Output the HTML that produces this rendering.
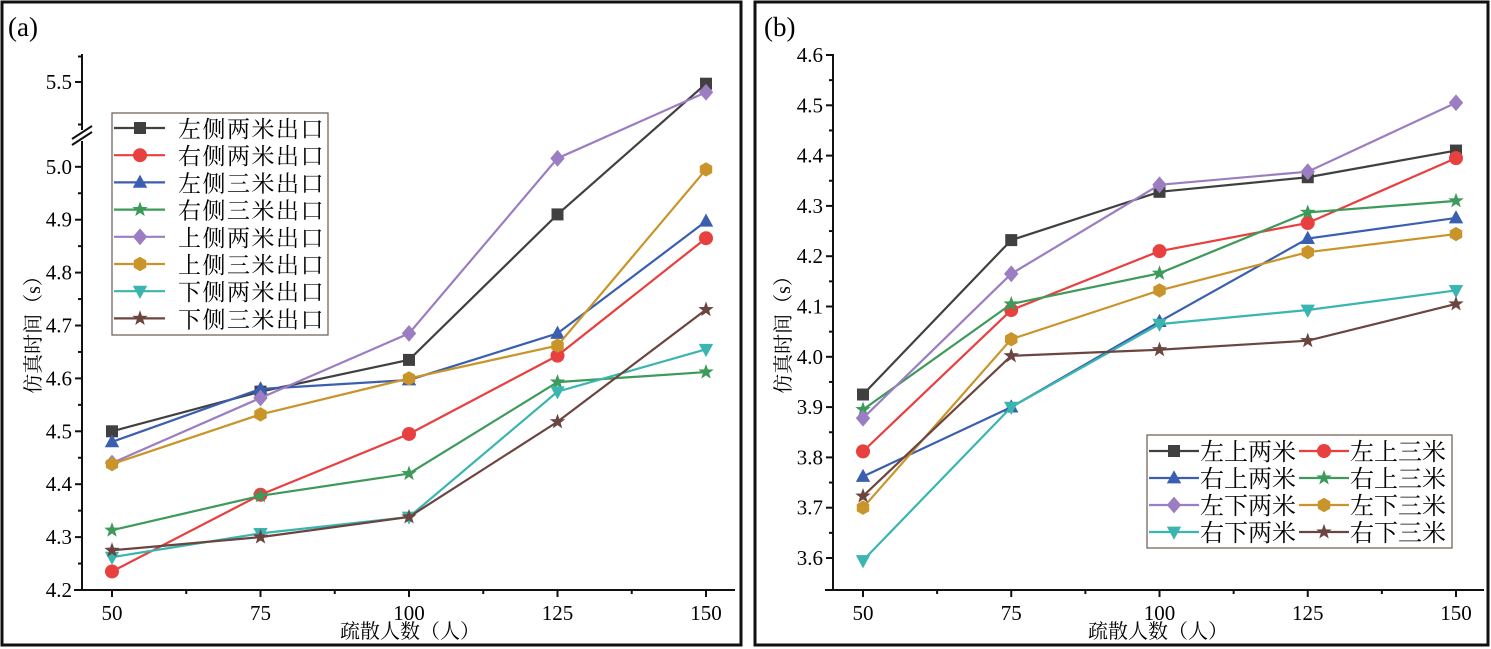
<!DOCTYPE html>
<html><head><meta charset="utf-8"><style>
html,body{margin:0;padding:0;background:#fff;}
svg{display:block;font-family:"Liberation Serif","Noto Serif CJK SC",serif;}
</style></head><body>
<svg id="chart" width="1491" height="649" viewBox="0 0 1491 649">
<rect x="2" y="2" width="739" height="643" fill="none" stroke="#111" stroke-width="3"/>
<rect x="755" y="2" width="733" height="643" fill="none" stroke="#111" stroke-width="3"/>
<text x="8" y="36" font-size="27">(a)</text>
<text x="764" y="36" font-size="27">(b)</text>
<g id="ga"></g><g id="gb"></g>
</svg>
<script>
const xCats=[50,75,100,125,150];
const namesA=["左侧两米出口","右侧两米出口","左侧三米出口","右侧三米出口","上侧两米出口","上侧三米出口","下侧两米出口","下侧三米出口"];
const a1=[4.50,4.575,4.635,4.91,5.49];
const a2=[4.235,4.38,4.495,4.643,4.865];
const a3=[4.48,4.58,4.597,4.685,4.897];
const a4=[4.313,4.378,4.42,4.593,4.612];
const a5=[4.44,4.563,4.685,5.016,5.44];
const a6=[4.438,4.532,4.60,4.662,4.995];
const a7=[4.262,4.307,4.338,4.575,4.655];
const a8=[4.275,4.30,4.338,4.518,4.73];
const yTicksA=[4.2,4.3,4.4,4.5,4.6,4.7,4.8,4.9,5.0];
const yTicksAUpper=[5.5];
const namesB=["左上两米","左上三米","右上两米","右上三米","左下两米","左下三米","右下两米","右下三米"];
const b1=[3.925,4.232,4.328,4.357,4.41];
const b2=[3.812,4.093,4.21,4.266,4.395];
const b3=[3.762,3.90,4.07,4.235,4.276];
const b4=[3.895,4.105,4.166,4.287,4.31];
const b5=[3.878,4.165,4.342,4.368,4.505];
const b6=[3.70,4.035,4.132,4.208,4.244];
const b7=[3.595,3.90,4.065,4.093,4.132];
const b8=[3.723,4.002,4.014,4.032,4.105];
const yTicksB=[3.6,3.7,3.8,3.9,4.0,4.1,4.2,4.3,4.4,4.5,4.6];

const colors=["#404040","#e8403f","#3a5fb0","#3c9a5a","#9b7ec2","#c9952a","#3ab5b0","#6b4540"];
const markers=["square","circle","tri","star","diamond","hex","dtri","star"];
const NS="http://www.w3.org/2000/svg";
function mk(p,tag,at){const e=document.createElementNS(NS,tag);for(const k in at)e.setAttribute(k,at[k]);p.appendChild(e);return e;}
function marker(p,type,x,y,c,s){
 let e;
 if(type==="square")e=mk(p,"rect",{x:x-s,y:y-s,width:2*s,height:2*s,fill:c});
 else if(type==="circle")e=mk(p,"circle",{cx:x,cy:y,r:s+1,fill:c});
 else {let pts=[];
  if(type==="tri")pts=[[0,-1.3],[1.2,0.9],[-1.2,0.9]];
  else if(type==="dtri")pts=[[0,1.3],[1.2,-0.9],[-1.2,-0.9]];
  else if(type==="diamond")pts=[[0,-1.4],[1.2,0],[0,1.4],[-1.2,0]];
  else if(type==="hex")for(let i=0;i<6;i++){const a=Math.PI/6+i*Math.PI/3;pts.push([Math.cos(a)*1.2,Math.sin(a)*1.2]);}
  else if(type==="star")for(let i=0;i<10;i++){const a=-Math.PI/2+i*Math.PI/5,r=i%2?0.55:1.35;pts.push([Math.cos(a)*r,Math.sin(a)*r]);}
  e=mk(p,"polygon",{points:pts.map(q=>(x+q[0]*s)+","+(y+q[1]*s)).join(" "),fill:c});}
 
 
}
function drawPanel(g,opt){
 const X=v=>opt.x0+(v-50)/100*(opt.x1-opt.x0);
 const Y=opt.Y;
 const ax=mk(g,"g",{stroke:"#111","stroke-width":2,fill:"none"});
 
 for(const seg of opt.ySegs)mk(ax,"line",{x1:opt.ax,y1:seg[0],x2:opt.ax,y2:seg[1]});
 mk(ax,"line",{x1:opt.ax-8,y1:opt.ay,x2:opt.axEnd,y2:opt.ay});
 xCats.forEach(v=>{mk(ax,"line",{x1:X(v),y1:opt.ay,x2:X(v),y2:opt.ay+7});
  const t=mk(g,"text",{x:X(v),y:opt.ay+30,"font-size":21,"text-anchor":"middle"});t.textContent=v;
  });
 for(let i=0;i<4;i++){const v=62.5+25*i;mk(ax,"line",{x1:X(v),y1:opt.ay,x2:X(v),y2:opt.ay+4});}
 opt.yTicks.forEach(v=>{const y=Y(v);mk(ax,"line",{x1:opt.ax-7,y1:y,x2:opt.ax,y2:y});
  const t=mk(g,"text",{x:opt.ax-10,y:y+7,"font-size":21,"text-anchor":"end"});t.textContent=v.toFixed(1);
  });
 opt.minor.forEach(v=>{const y=Y(v);mk(ax,"line",{x1:opt.ax-4,y1:y,x2:opt.ax,y2:y});});
 opt.series.forEach((s,i)=>{
  const sg=mk(g,"g",{});
  const l=mk(sg,"polyline",{points:s.map((v,j)=>X(xCats[j])+","+Y(v)).join(" "),fill:"none",stroke:colors[i],"stroke-width":2.2});
  
  s.forEach((v,j)=>marker(sg,markers[i],X(xCats[j]),Y(v),colors[i],6));
 });
 const yt=mk(g,"text",{transform:`translate(${opt.ytx},${opt.yty}) rotate(-90)`,"font-size":20,"text-anchor":"middle"});
 yt.textContent="仿真时间（s）";
 const xt=mk(g,"text",{x:opt.xtx,y:638,"font-size":20,"text-anchor":"middle"});
 xt.textContent="疏散人数（人）";
}
const YA=v=>v<=5.1?590-(v-4.2)*529:82+(5.5-v)*170;
const ga=document.getElementById("ga");
drawPanel(ga,{x0:112,x1:706,ax:82,ay:590,axEnd:735,Y:YA,ySegs:[[54,130],[141,591]],
 yTicks:yTicksA.concat(yTicksAUpper),minor:[4.25,4.35,4.45,4.55,4.65,4.75,4.85,4.95,5.25,5.65],
 series:[a1,a2,a3,a4,a5,a6,a7,a8],names:namesA,ytx:40,yty:330,xtx:410});
mk(ga,"line",{x1:72,y1:139,x2:92,y2:126,stroke:"#111","stroke-width":2});
mk(ga,"line",{x1:72,y1:145,x2:92,y2:132,stroke:"#111","stroke-width":2});
const la=mk(ga,"g",{});
mk(la,"rect",{x:112,y:113,width:216,height:222,fill:"#fff",stroke:"#6a5a50","stroke-width":1.2});
namesA.forEach((n,i)=>{const y=128+i*27.2;
 mk(la,"line",{x1:114,y1:y,x2:165,y2:y,stroke:colors[i],"stroke-width":2.2});
 marker(la,markers[i],140,y,colors[i],6);
 const t=mk(la,"text",{x:178,y:y+9,"font-size":23,"letter-spacing":1.5,"font-family":"Noto Serif CJK SC, serif"});t.textContent=n;
 });
const YB=v=>558-(v-3.6)*503;
const gb=document.getElementById("gb");
drawPanel(gb,{x0:863,x1:1456,ax:833,ay:590,axEnd:1484,Y:YB,ySegs:[[54,591]],
 yTicks:yTicksB,minor:[3.65,3.75,3.85,3.95,4.05,4.15,4.25,4.35,4.45,4.55],
 series:[b1,b2,b3,b4,b5,b6,b7,b8],names:namesB,ytx:790,yty:330,xtx:1158});
const lb=mk(gb,"g",{});
mk(lb,"rect",{x:1147,y:435,width:305,height:113,fill:"#fff",stroke:"#6a5a50","stroke-width":1.2});
namesB.forEach((n,i)=>{const col=i%2,row=Math.floor(i/2);const x=1149+col*150,y=451+row*27;
 mk(lb,"line",{x1:x,y1:y,x2:x+50,y2:y,stroke:colors[i],"stroke-width":2.2});
 marker(lb,markers[i],x+25,y,colors[i],6);
 const t=mk(lb,"text",{x:x+51,y:y+9,"font-size":24,"font-family":"Noto Serif CJK SC, serif"});t.textContent=n;
 });
</script>
</body></html>
